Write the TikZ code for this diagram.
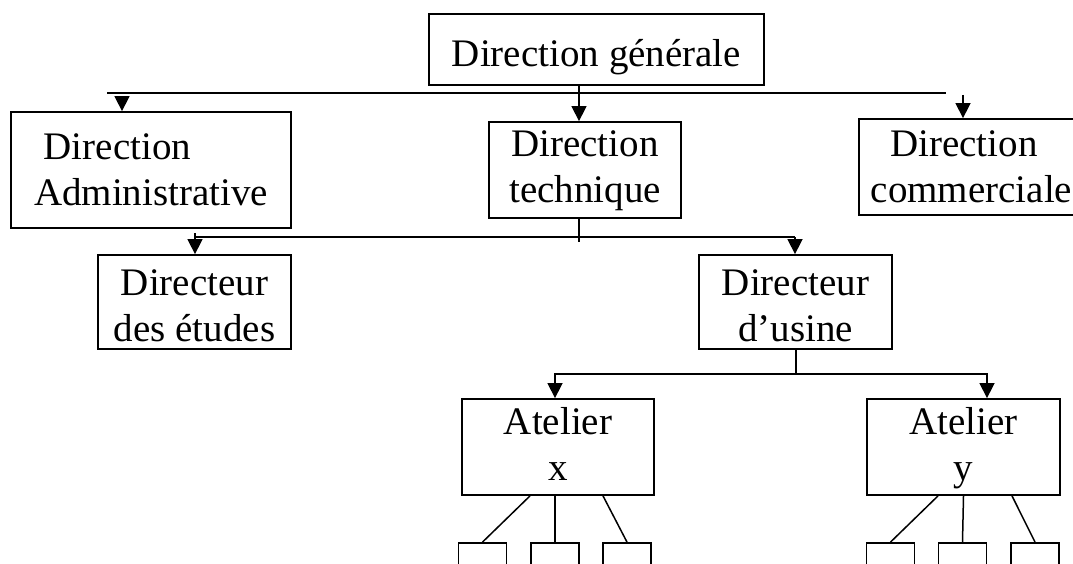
\documentclass[tikz,border=0pt]{standalone}
\usepackage{fontspec}
\setmainfont{Liberation Serif}
\usetikzlibrary{arrows.meta}

\begin{document}
\begin{tikzpicture}[x=1pt,y=-1pt,
	unit/.style={draw,line width=1.8pt,inner sep=0pt,align=center,font=\fontsize{39}{46}\selectfont},
	cell/.style={draw,line width=1.8pt,inner sep=0pt,minimum width=48pt,minimum height=60pt},
	link/.style={line width=1.5pt},
	down/.style={line width=1.5pt,-{Triangle[length=15pt,width=15pt]}}]
	\useasboundingbox (0,0) rectangle (1073,564);
	\node[unit,minimum width=335pt,text height=53pt,text depth=18pt] (dg) at (596.5,49.5) {Direction générale};
	\node[unit,align=left,minimum width=280pt,text height=93pt,text depth=23pt] (da) at (151,170) {~Direction\\Administrative};
	\node[unit,minimum width=192pt,text height=81pt,text depth=15pt] (dt) at (585,170) {Direction\\technique};
	\node[unit,align=left,minimum width=225pt,text height=84pt,text depth=12pt] (dc) at (971.5,167) {~~Direction\\commerciale};
	\node[unit,minimum width=193pt,text height=86pt,text depth=8pt] (de) at (194.5,302) {Directeur\\des études};
	\node[unit,minimum width=193pt,text height=86pt,text depth=8pt] (du) at (795.5,302) {Directeur\\d’usine};
	\node[unit,minimum width=192pt,text height=81pt,text depth=15pt] (ax) at (558,447) {Atelier\\x};
	\node[unit,minimum width=193pt,text height=81pt,text depth=15pt] (ay) at (963.5,447) {Atelier\\y};
	\node[cell] (ax1) at (482.5,573) {};
	\node[cell] (ax2) at (555,573) {};
	\node[cell] (ax3) at (627,573) {};
	\node[cell] (ay1) at (890.5,573) {};
	\node[cell] (ay2) at (962.5,573) {};
	\node[cell] (ay3) at (1035,573) {};

	\coordinate (b1w) at (107,93);
	\coordinate (b1e) at (946,93);
	\draw[link] (b1w) -- (b1e);
	\coordinate (tda) at (122,97);
	\draw[down] (tda) -- (tda |- da.north);
	\coordinate (tdt) at (579,0);
	\draw[down] (tdt |- dg.south) -- (tdt |- dt.north);
	\coordinate (tdc) at (963,95);
	\draw[down] (tdc) -- (tdc |- dc.north);

	\coordinate (b2w) at (195,237);
	\coordinate (b2e) at (795,237);
	\draw[link] (b2w) -- (b2e);
	\coordinate (b2t) at (579,242);
	\draw[link] (b2t |- dt.south) -- (b2t);
	\coordinate (tde) at (195,233);
	\draw[down] (tde) -- (tde |- de.north);
	\draw[down] (b2e) -- (b2e |- du.north);

	\coordinate (b3) at (796,374);
	\draw[link] (b3 |- du.south) -- (b3);
	\draw[down] (b3) -| ([xshift=-3pt]ax.north);
	\draw[down] (b3) -| ([xshift=23.5pt]ay.north);

	\draw[link] ([xshift=-28pt]ax.south) -- (ax1.north);
	\draw[link] ([xshift=-3pt]ax.south) -- (ax2.north);
	\draw[link] ([xshift=45pt]ax.south) -- (ax3.north);
	\draw[link] ([xshift=-25.5pt]ay.south) -- (ay1.north);
	\draw[link] (ay.south) -- (ay2.north);
	\draw[link] ([xshift=48.5pt]ay.south) -- (ay3.north);
\end{tikzpicture}
\end{document}
